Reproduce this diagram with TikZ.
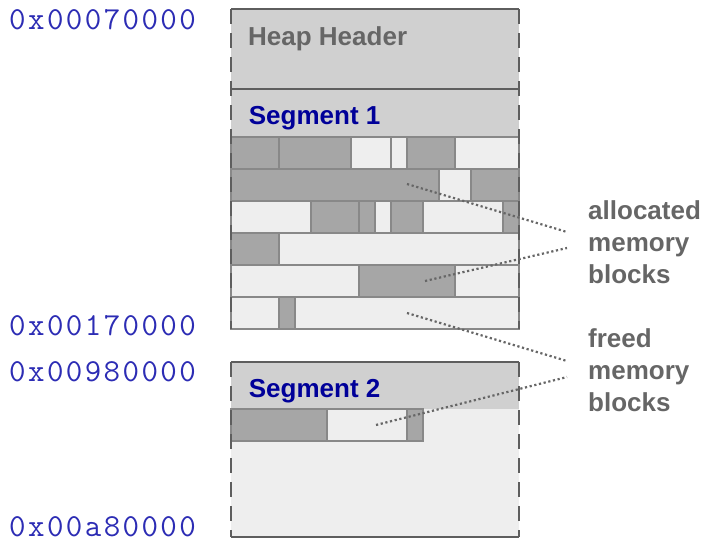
\documentclass[tikz,border=0pt]{standalone}
\usepackage{fontspec}
\setmainfont{Liberation Sans}
\newfontfamily\addrfont{Latin Modern Mono}[LetterSpace=7.6]
\definecolor{usedgray}{HTML}{A6A6A6}
\definecolor{freegray}{HTML}{EEEEEE}
\definecolor{headergray}{HTML}{D0D0D0}
\definecolor{edgegray}{HTML}{888888}
\definecolor{framegray}{HTML}{5E5E5E}
\definecolor{textgray}{HTML}{666666}
\definecolor{segblue}{HTML}{000099}
\definecolor{addrblue}{HTML}{2C2CB4}
% dashed vertical side of a segment frame: x, top y, bottom y
\newcommand\frameside[3]{%
  \pgfmathsetmacro\dashnext{#2+24}%
  \foreach \yy in {#2,\dashnext,...,#3} {%
    \pgfmathsetmacro\dashend{min(\yy+15,#3)}%
    \draw[frame edge] (#1,\yy) -- (#1,\dashend);
  }%
}
\begin{document}
\begin{tikzpicture}[x=1pt,y=-1pt,
  blk/.style={draw=edgegray,line width=1.4pt},
  frame edge/.style={draw=framegray,line width=2.6pt},
  hdrtext/.style={anchor=base west,inner sep=0pt,text=textgray,font=\fontsize{26}{32}\selectfont\bfseries},
  segtext/.style={anchor=base west,inner sep=0pt,text=segblue,font=\fontsize{26}{32}\selectfont\bfseries},
  addr/.style={anchor=base west,inner sep=0pt,text=addrblue,font=\addrfont\fontsize{32}{36}\selectfont},
  note/.style={anchor=west,inner sep=0pt,align=left,text=textgray,font=\fontsize{26}{32}\selectfont\bfseries},
  leader/.style={draw=textgray,line width=2.2pt,dash pattern=on 2.2pt off 2.6pt}]
\useasboundingbox (0,0) rectangle (701,546);

% ---- segment 1 heap: header and segment header ----
\fill[headergray] (231,9) rectangle (519,137);

% rows of memory blocks
\foreach \xa/\xb/\c in {231/279/usedgray,279/351/usedgray,351/391/freegray,391/407/freegray,407/455/usedgray,455/519/freegray}
  \draw[blk,fill=\c] (\xa,137) rectangle (\xb,169);
\foreach \xa/\xb/\c in {231/439/usedgray,439/471/freegray,471/519/usedgray}
  \draw[blk,fill=\c] (\xa,169) rectangle (\xb,201);
\foreach \xa/\xb/\c in {231/311/freegray,311/359/usedgray,359/375/usedgray,375/391/freegray,391/423/usedgray,423/503/freegray,503/519/usedgray}
  \draw[blk,fill=\c] (\xa,201) rectangle (\xb,233);
\foreach \xa/\xb/\c in {231/279/usedgray,279/519/freegray}
  \draw[blk,fill=\c] (\xa,233) rectangle (\xb,265);
\foreach \xa/\xb/\c in {231/359/freegray,359/455/usedgray,455/519/freegray}
  \draw[blk,fill=\c] (\xa,265) rectangle (\xb,297);
\foreach \xa/\xb/\c in {231/279/freegray,279/295/usedgray,295/519/freegray}
  \draw[blk,fill=\c] (\xa,297) rectangle (\xb,329);

% outline of the first segment
\draw[frame edge] (231,9) -- (519,9);
\draw[frame edge] (231,89) -- (519,89);
\frameside{231}{9}{329}
\frameside{519}{9}{329}

% ---- segment 2 ----
\fill[headergray] (231,362) rectangle (519,409);
\fill[freegray] (231,409) rectangle (519,537);
\foreach \xa/\xb/\c in {231/327/usedgray,327/407/freegray,407/423/usedgray}
  \draw[blk,fill=\c] (\xa,409) rectangle (\xb,441);
\draw[frame edge] (231,362) -- (519,362);
\draw[frame edge] (231,537) -- (519,537);
\frameside{231}{362}{537}
\frameside{519}{362}{537}

% ---- titles ----
\node[hdrtext] (heap) at (248,45) {Heap Header};
\node[segtext] (seg1) at (248.7,124) {Segment 1};
\node[segtext] (seg2) at (248.7,397) {Segment 2};

% ---- addresses ----
\node[addr] (addr1) at (9,29.3) {0x00070000};
\node[addr] (addr2) at (9,335) {0x00170000};
\node[addr] (addr3) at (9,381.7) {0x00980000};
\node[addr] (addr4) at (9,536.7) {0x00a80000};

% ---- legend labels ----
\node[note] (alloc) at (588,242.7) {allocated\\memory\\blocks};
\node[note] (freed) at (588,370.7) {freed\\memory\\blocks};

% leader lines from sample blocks to the labels
\coordinate (usedA) at (407,184);
\coordinate (usedB) at (425,281);
\coordinate (freeA) at (407,313);
\coordinate (freeB) at (376,425);
\coordinate (allocEndA) at (567,232);
\coordinate (allocEndB) at (567,248);
\coordinate (freedEndA) at (567,361);
\coordinate (freedEndB) at (567,377);
\draw[leader] (usedA) -- (allocEndA);
\draw[leader] (usedB) -- (allocEndB);
\draw[leader] (freeA) -- (freedEndA);
\draw[leader] (freeB) -- (freedEndB);
\end{tikzpicture}
\end{document}
